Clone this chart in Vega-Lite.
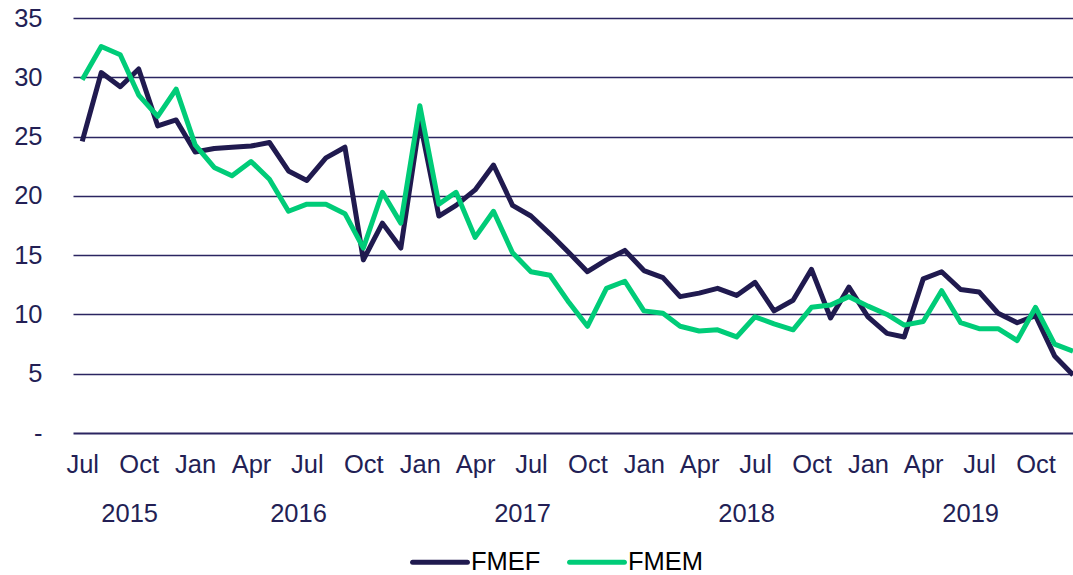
{
  "$schema": "https://vega.github.io/schema/vega-lite/v6.json",
  "width": 1000,
  "height": 415,
  "autosize": {"type": "none"},
  "padding": {"left": 73, "top": 18, "right": 0, "bottom": 142},
  "background": "white",
  "config": {
    "view": {"stroke": null},
    "font": "Liberation Sans",
    "axis": {"labelFont": "Liberation Sans", "labelFontSize": 25.5, "labelColor": "#231F55", "title": null}
  },
  "data": {
    "values": [
      {"month": "2015-07-01", "FMEF": 24.6, "FMEM": 29.8},
      {"month": "2015-08-01", "FMEF": 30.4, "FMEM": 32.6},
      {"month": "2015-09-01", "FMEF": 29.2, "FMEM": 31.9},
      {"month": "2015-10-01", "FMEF": 30.7, "FMEM": 28.5},
      {"month": "2015-11-01", "FMEF": 25.9, "FMEM": 26.7},
      {"month": "2015-12-01", "FMEF": 26.4, "FMEM": 29.0},
      {"month": "2016-01-01", "FMEF": 23.7, "FMEM": 24.3},
      {"month": "2016-02-01", "FMEF": 24.0, "FMEM": 22.4},
      {"month": "2016-03-01", "FMEF": 24.1, "FMEM": 21.7},
      {"month": "2016-04-01", "FMEF": 24.2, "FMEM": 22.9},
      {"month": "2016-05-01", "FMEF": 24.5, "FMEM": 21.4},
      {"month": "2016-06-01", "FMEF": 22.1, "FMEM": 18.7},
      {"month": "2016-07-01", "FMEF": 21.3, "FMEM": 19.3},
      {"month": "2016-08-01", "FMEF": 23.2, "FMEM": 19.3},
      {"month": "2016-09-01", "FMEF": 24.1, "FMEM": 18.5},
      {"month": "2016-10-01", "FMEF": 14.6, "FMEM": 15.6},
      {"month": "2016-11-01", "FMEF": 17.7, "FMEM": 20.3},
      {"month": "2016-12-01", "FMEF": 15.6, "FMEM": 17.7},
      {"month": "2017-01-01", "FMEF": 26.3, "FMEM": 27.6},
      {"month": "2017-02-01", "FMEF": 18.3, "FMEM": 19.3},
      {"month": "2017-03-01", "FMEF": 19.2, "FMEM": 20.3},
      {"month": "2017-04-01", "FMEF": 20.5, "FMEM": 16.5},
      {"month": "2017-05-01", "FMEF": 22.6, "FMEM": 18.7},
      {"month": "2017-06-01", "FMEF": 19.2, "FMEM": 15.2},
      {"month": "2017-07-01", "FMEF": 18.3, "FMEM": 13.6},
      {"month": "2017-08-01", "FMEF": 16.8, "FMEM": 13.3},
      {"month": "2017-09-01", "FMEF": 15.2, "FMEM": 11.0},
      {"month": "2017-10-01", "FMEF": 13.6, "FMEM": 9.0},
      {"month": "2017-11-01", "FMEF": 14.6, "FMEM": 12.2},
      {"month": "2017-12-01", "FMEF": 15.4, "FMEM": 12.8},
      {"month": "2018-01-01", "FMEF": 13.7, "FMEM": 10.3},
      {"month": "2018-02-01", "FMEF": 13.1, "FMEM": 10.1},
      {"month": "2018-03-01", "FMEF": 11.5, "FMEM": 9.0},
      {"month": "2018-04-01", "FMEF": 11.8, "FMEM": 8.6},
      {"month": "2018-05-01", "FMEF": 12.2, "FMEM": 8.7},
      {"month": "2018-06-01", "FMEF": 11.6, "FMEM": 8.1},
      {"month": "2018-07-01", "FMEF": 12.7, "FMEM": 9.8},
      {"month": "2018-08-01", "FMEF": 10.3, "FMEM": 9.2},
      {"month": "2018-09-01", "FMEF": 11.2, "FMEM": 8.7},
      {"month": "2018-10-01", "FMEF": 13.8, "FMEM": 10.6},
      {"month": "2018-11-01", "FMEF": 9.7, "FMEM": 10.8},
      {"month": "2018-12-01", "FMEF": 12.3, "FMEM": 11.5},
      {"month": "2019-01-01", "FMEF": 9.8, "FMEM": 10.7},
      {"month": "2019-02-01", "FMEF": 8.4, "FMEM": 10.0},
      {"month": "2019-03-01", "FMEF": 8.1, "FMEM": 9.1},
      {"month": "2019-04-01", "FMEF": 13.0, "FMEM": 9.4},
      {"month": "2019-05-01", "FMEF": 13.6, "FMEM": 12.0},
      {"month": "2019-06-01", "FMEF": 12.1, "FMEM": 9.3},
      {"month": "2019-07-01", "FMEF": 11.9, "FMEM": 8.8},
      {"month": "2019-08-01", "FMEF": 10.1, "FMEM": 8.8},
      {"month": "2019-09-01", "FMEF": 9.3, "FMEM": 7.8},
      {"month": "2019-10-01", "FMEF": 9.9, "FMEM": 10.6},
      {"month": "2019-11-01", "FMEF": 6.5, "FMEM": 7.5},
      {"month": "2019-12-01", "FMEF": 4.9, "FMEM": 6.9}
    ]
  },
  "transform": [{"fold": ["FMEF", "FMEM"], "as": ["series", "value"]}],
  "layer": [
    {
      "mark": {"type": "line", "strokeWidth": 5, "strokeJoin": "round"},
      "encoding": {
        "x": {
          "field": "month",
          "type": "temporal",
          "scale": {
            "type": "utc",
            "domain": [
              {"year": 2015, "month": 6, "date": 16, "utc": true},
              {"year": 2019, "month": 12, "date": 1, "utc": true}
            ]
          },
          "axis": {
            "orient": "bottom",
            "values": [
              {"year": 2015, "month": 7, "date": 1, "utc": true},
              {"year": 2015, "month": 10, "date": 1, "utc": true},
              {"year": 2016, "month": 1, "date": 1, "utc": true},
              {"year": 2016, "month": 4, "date": 1, "utc": true},
              {"year": 2016, "month": 7, "date": 1, "utc": true},
              {"year": 2016, "month": 10, "date": 1, "utc": true},
              {"year": 2017, "month": 1, "date": 1, "utc": true},
              {"year": 2017, "month": 4, "date": 1, "utc": true},
              {"year": 2017, "month": 7, "date": 1, "utc": true},
              {"year": 2017, "month": 10, "date": 1, "utc": true},
              {"year": 2018, "month": 1, "date": 1, "utc": true},
              {"year": 2018, "month": 4, "date": 1, "utc": true},
              {"year": 2018, "month": 7, "date": 1, "utc": true},
              {"year": 2018, "month": 10, "date": 1, "utc": true},
              {"year": 2019, "month": 1, "date": 1, "utc": true},
              {"year": 2019, "month": 4, "date": 1, "utc": true},
              {"year": 2019, "month": 7, "date": 1, "utc": true},
              {"year": 2019, "month": 10, "date": 1, "utc": true}
            ],
            "labelExpr": "utcFormat(datum.value, '%b')",
            "labelPadding": 19,
            "labelOverlap": false,
            "labelFlush": false,
            "ticks": false,
            "tickSize": 0,
            "domain": false,
            "grid": false
          }
        },
        "y": {
          "field": "value",
          "type": "quantitative",
          "scale": {"domain": [0, 35], "nice": false, "zero": true},
          "axis": {
            "values": [0, 5, 10, 15, 20, 25, 30, 35],
            "labelExpr": "datum.value === 0 ? '-' : datum.label",
            "labelPadding": 31,
            "ticks": false,
            "tickSize": 0,
            "domain": false,
            "grid": true,
            "gridColor": "#2B2561",
            "gridWidth": {"condition": {"test": "datum.value === 0", "value": 2}, "value": 1.3}
          }
        },
        "color": {
          "field": "series",
          "type": "nominal",
          "scale": {"domain": ["FMEF", "FMEM"], "range": ["#201A4F", "#00CC78"]},
          "legend": {
            "title": null,
            "orient": "none",
            "direction": "horizontal",
            "legendX": 337,
            "legendY": 514,
            "symbolType": "stroke",
            "symbolSize": 3000,
            "symbolStrokeWidth": 5,
            "labelFont": "Liberation Sans",
            "labelFontSize": 25.5,
            "labelColor": "#000000",
            "labelOffset": 1,
            "columnPadding": 18,
            "padding": 0,
            "encode": {"symbols": {"update": {"strokeCap": {"value": "round"}}}}
          }
        }
      }
    },
    {
      "mark": {"type": "point", "opacity": 0},
      "encoding": {
        "x": {
          "field": "month",
          "type": "temporal",
          "axis": {
            "orient": "bottom",
            "values": [
              {"year": 2015, "month": 9, "date": 15, "hours": 12, "utc": true},
              {"year": 2016, "month": 6, "date": 16, "hours": 12, "utc": true},
              {"year": 2017, "month": 6, "date": 16, "hours": 12, "utc": true},
              {"year": 2018, "month": 6, "date": 16, "hours": 12, "utc": true},
              {"year": 2019, "month": 6, "date": 16, "hours": 12, "utc": true}
            ],
            "labelExpr": "utcFormat(datum.value, '%Y')",
            "labelPadding": 68,
            "labelOverlap": false,
            "labelFlush": false,
            "ticks": false,
            "tickSize": 0,
            "domain": false,
            "grid": false
          }
        }
      }
    }
  ],
  "resolve": {"axis": {"x": "independent"}}
}
